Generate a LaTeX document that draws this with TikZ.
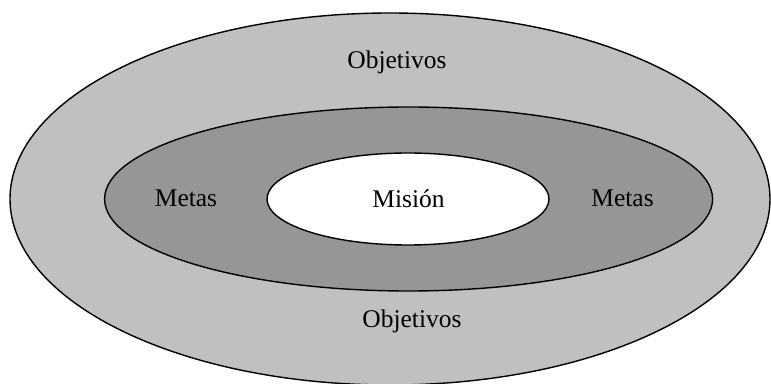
\documentclass[tikz,border=0pt]{standalone}
\usepackage{fontspec}
\setmainfont{Liberation Serif}
\definecolor{outerfill}{HTML}{C0C0C0}
\definecolor{midfill}{HTML}{969696}
\begin{document}
\begin{tikzpicture}[x=1pt,y=1pt,
  ring/.style={draw=black,line width=1.4pt},
  lbl/.style={font=\fontsize{25.5}{30}\selectfont,anchor=base,inner sep=0pt}]
\useasboundingbox (0,0) rectangle (771,383);
\fill[white] (0,0) rectangle (771,383);
\begin{scope}
\clip (0,0) rectangle (771,383);
\draw[ring,fill=outerfill] (390,184) ellipse [x radius=380,y radius=186];
\end{scope}
\draw[ring,fill=midfill] (408.6,184) ellipse [x radius=304,y radius=92];
\draw[ring,fill=white] (408,184) ellipse [x radius=141,y radius=46];
\node[lbl] (objtop) at (397,314) {Objetivos};
\node[lbl] (metasl) at (186,176) {Metas};
\node[lbl] (mision) at (408.5,175) {Misión};
\node[lbl] (metasr) at (622.5,176) {Metas};
\node[lbl] (objbot) at (412,56) {Objetivos};
\end{tikzpicture}
\end{document}
